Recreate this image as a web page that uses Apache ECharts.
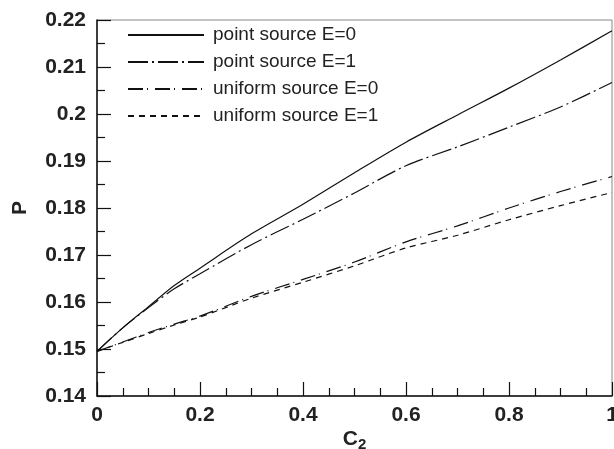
<!DOCTYPE html>
<html>
<head>
    <meta http-equiv="Content-Type" content="text/html; charset=utf-8">
    <script src="https://cdn.jsdelivr.net/npm/echarts@6/dist/echarts.min.js"></script>
    <style>
        * {
            margin: 0;
            padding: 0;
        }

        #main {
            width: 614px;
            height: 449px;
            background: #fff;
        }
    </style>
</head>
<body>
<div id="main"></div>
<script type="text/javascript">
    // C2 values along the x axis
    let c2 = [0, 0.05, 0.1, 0.15, 0.2, 0.3, 0.4, 0.5, 0.6, 0.7, 0.8, 0.9, 1.0];
    // P, one array per curve
    let pointE0 = [0.1495, 0.1545, 0.1590, 0.1635, 0.1672, 0.1745, 0.1808, 0.1875, 0.1940, 0.1998, 0.2055, 0.2115, 0.2177];
    let pointE1 = [0.1495, 0.1545, 0.1588, 0.1628, 0.1660, 0.1722, 0.1776, 0.1832, 0.1890, 0.1930, 0.1972, 0.2015, 0.2067];
    let uniformE0 = [0.1495, 0.1515, 0.1535, 0.1553, 0.1570, 0.1612, 0.1648, 0.1685, 0.1728, 0.1762, 0.1800, 0.1835, 0.1867];
    let uniformE1 = [0.1495, 0.1514, 0.1533, 0.1551, 0.1568, 0.1608, 0.1642, 0.1677, 0.1715, 0.1742, 0.1775, 0.1805, 0.1833];
    let seriesNames = ['point source E=0', 'point source E=1', 'uniform source E=0', 'uniform source E=1'];
    let xTicks = [0, 0.2, 0.4, 0.6, 0.8, 1];
    let yTicks = [0.14, 0.15, 0.16, 0.17, 0.18, 0.19, 0.2, 0.21, 0.22];

    function pairs(ys) {
        return c2.map(function (x, i) {
            return [x, ys[i]];
        });
    }

    let dashes = ['solid', [20, 4, 2, 4], [15, 4, 1, 7], [6, 5]];
    let allData = [pointE0, pointE1, uniformE0, uniformE1];

    let myChart = echarts.init(document.getElementById('main'));

    let labelFont = {
        fontFamily: 'Liberation Sans, Arial, sans-serif',
        fontWeight: 'bold',
        fontSize: 21,
        color: '#222'
    };

    let option = {
        animation: false,
        backgroundColor: '#fff',
        grid: {
            left: 97,
            right: 2,
            top: 20,
            bottom: 53,
            containLabel: false,
            outerBoundsMode: 'none',
            show: true,
            borderColor: '#888',
            borderWidth: 1
        },
        legend: {
            show: true,
            orient: 'vertical',
            left: 127,
            top: 25,
            padding: 0,
            itemWidth: 76,
            itemHeight: 14,
            itemGap: 7,
            data: seriesNames,
            itemStyle: {opacity: 0},
            textStyle: {
                fontFamily: 'Liberation Sans, Arial, sans-serif',
                fontSize: 19,
                lineHeight: 20,
                color: '#222',
                padding: [0, 0, 0, 4]
            }
        },
        xAxis: {
            type: 'value',
            min: 0,
            max: 1,
            interval: 0.2,
            name: 'C{s|2}',
            nameLocation: 'middle',
            nameGap: 31,
            nameMoveOverlap: false,
            nameTextStyle: {
                fontFamily: 'Liberation Sans, Arial, sans-serif',
                fontWeight: 'bold',
                fontSize: 21,
                color: '#222',
                rich: {
                    s: {
                        fontFamily: 'Liberation Sans, Arial, sans-serif',
                        fontWeight: 'bold',
                        fontSize: 15,
                        color: '#222',
                        verticalAlign: 'bottom',
                        padding: [10, 0, 0, 0]
                    }
                }
            },
            axisLine: {lineStyle: {color: '#111', width: 1.5}},
            axisTick: {inside: true, length: 14, lineStyle: {color: '#111', width: 1.2}},
            minorTick: {show: true, splitNumber: 4, length: 8, lineStyle: {color: '#111', width: 1.2}},
            splitLine: {show: false},
            axisLabel: Object.assign({
                margin: 9,
                showMaxLabel: true,
                formatter: function (v) {
                    return xTicks.indexOf(Math.round(v * 10) / 10) >= 0 ? String(Math.round(v * 10) / 10) : '';
                }
            }, labelFont)
        },
        yAxis: {
            type: 'value',
            min: 0.14,
            max: 0.22,
            interval: 0.01,
            name: 'P',
            nameLocation: 'middle',
            nameGap: 66,
            nameRotate: 90,
            nameMoveOverlap: false,
            nameTextStyle: labelFont,
            axisLine: {lineStyle: {color: '#111', width: 1.5}},
            axisTick: {inside: true, length: 14, lineStyle: {color: '#111', width: 1.2}},
            minorTick: {show: true, splitNumber: 2, length: 8, lineStyle: {color: '#111', width: 1.2}},
            splitLine: {show: false},
            axisLabel: Object.assign({
                margin: 11,
                showMaxLabel: true,
                formatter: function (v) {
                    let r = Math.round(v * 100) / 100;
                    return yTicks.indexOf(r) >= 0 ? String(r) : '';
                }
            }, labelFont)
        },
        series: seriesNames.map(function (name, i) {
            return {
                name: name,
                type: 'line',
                smooth: 0.3,
                symbol: 'none',
                data: pairs(allData[i]),
                lineStyle: {color: '#111', width: 1.2, type: dashes[i]},
                itemStyle: {color: '#111'}
            };
        })
    };

    myChart.setOption(option);
</script>
</body>
</html>
